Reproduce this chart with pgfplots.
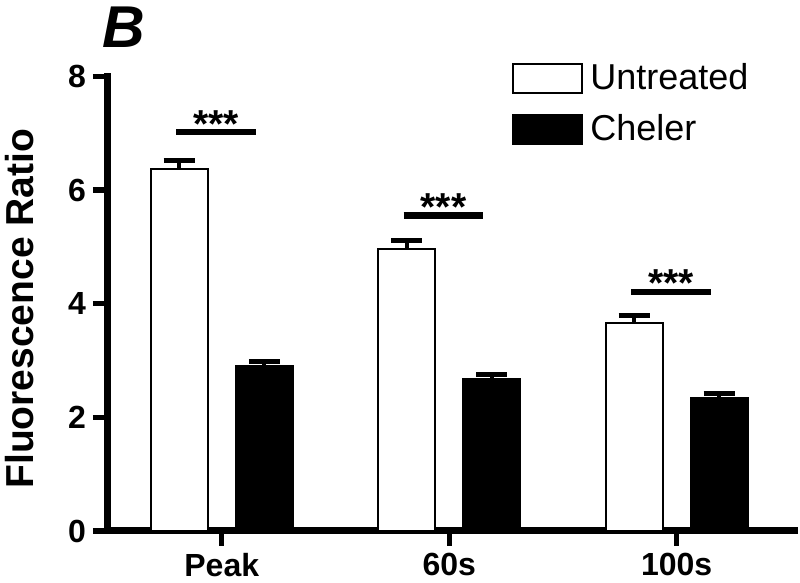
\documentclass[border=0pt]{standalone}
\usepackage{pgfplots}
\pgfplotsset{compat=1.18}
\usepackage{fontspec}
\setmainfont{Liberation Sans}

% mean and SEM
\pgfplotstableread{
x      y     e
-0.187 6.37  0.16
0.813  4.96  0.15
1.813  3.66  0.13
}\untreated
\pgfplotstableread{
x      y     e
0.187  2.90  0.08
1.187  2.68  0.07
2.187  2.34  0.08
}\cheler

\pgfplotsset{
  errstyle/.style={
    error bars/y dir=plus, error bars/y explicit,
    error bars/error bar style={line width=2pt, black},
    error bars/error mark options={rotate=90, mark size=7.75pt, line width=2.5pt, black},
  },
}

\begin{document}
\begin{tikzpicture}
\begin{axis}[
  scale only axis,
  width=343.5pt, height=227.25pt,
  xmin=-0.5, xmax=2.52,
  ymin=0, ymax=8,
  axis lines*=left,
  axis line style={line width=3.5pt, line cap=rect},
  xtick={0,1,2},
  xticklabels={Peak,60s,100s},
  ytick={0,2,4,6,8},
  tick align=outside,
  major tick length=7.5pt,
  tick style={line width=2.7pt, black},
  tick label style={font=\fontsize{16}{19}\selectfont\bfseries},
  /pgf/number format/assume math mode=true,
  ylabel={Fluorescence Ratio},
  ylabel style={font=\fontsize{19.5}{23}\selectfont\bfseries,
    at={(axis description cs:-0.128,0.489)}, anchor=center},
  bar width=0.251,
  legend style={draw=none, fill=none, at={(axis description cs:0.588,1.03)},
    anchor=north west, inner sep=0pt, row sep=10pt, column sep=3.5pt,
    font=\fontsize{18}{21}\selectfont, nodes={inner sep=0pt}},
  legend cell align=left,
  clip=false,
]
\addplot[ybar, bar shift=0pt, fill=white, draw=black, line width=1pt, errstyle,
  legend image code/.code={\draw[fill=white, draw=black, line width=1pt] (0pt,-7.5pt) rectangle (34.5pt,7pt);}]
  table[x=x, y=y, y error=e] {\untreated};
\addlegendentry{Untreated}
\addplot[ybar, bar shift=0pt, fill=black, draw=black, line width=1pt, errstyle,
  legend image code/.code={\draw[fill=black, draw=black, line width=1pt] (0pt,-7.5pt) rectangle (34.5pt,7pt);}]
  table[x=x, y=y, y error=e] {\cheler};
\addlegendentry{Cheler}

% significance bars
\addplot[line width=3.3pt, black, forget plot] coordinates {(-0.2,7.02) (0.15,7.02)};
\addplot[line width=3.3pt, black, forget plot] coordinates {(0.8,5.55) (1.15,5.55)};
\addplot[line width=3.3pt, black, forget plot] coordinates {(1.8,4.21) (2.15,4.21)};
\node[anchor=base, inner sep=0pt, font=\fontsize{19.5}{23}\selectfont\bfseries] at (axis cs:-0.025,6.93) {***};
\node[anchor=base, inner sep=0pt, font=\fontsize{19.5}{23}\selectfont\bfseries] at (axis cs:0.975,5.46) {***};
\node[anchor=base, inner sep=0pt, font=\fontsize{19.5}{23}\selectfont\bfseries] at (axis cs:1.975,4.12) {***};

\coordinate (O) at (rel axis cs:0,0);
\end{axis}
\node[anchor=base west, inner sep=0pt, font=\fontsize{29.5}{35}\selectfont\bfseries\itshape] at ([shift={(-3pt,241.5pt)}]O) {B};
\pgfresetboundingbox
\path (O) ++(-54pt,-26pt) rectangle ++(400pt,291.5pt);
\end{tikzpicture}
\end{document}
